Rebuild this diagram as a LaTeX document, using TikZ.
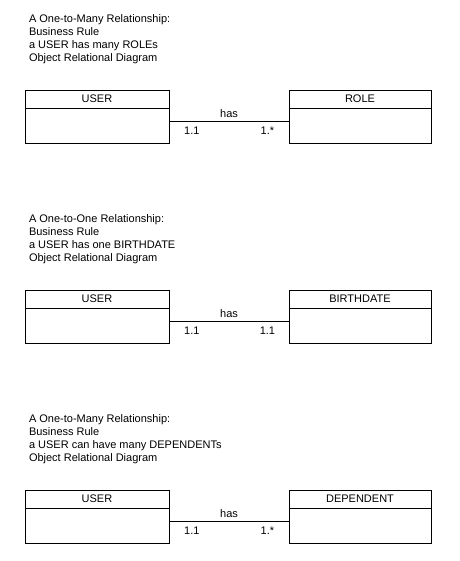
\documentclass[tikz,border=0pt]{standalone}
\usepackage{fontspec}
\setmainfont{Liberation Sans}
\usetikzlibrary{positioning}
\tikzstyle{annot}=[inner sep=0pt, outer sep=0pt, font=\fontsize{8.25}{9.75}\selectfont]
\tikzstyle{head}=[annot, rectangle, draw=black, line width=0.75pt, minimum height=13.5pt, text height=5.9pt, text depth=0pt, anchor=north west]
\tikzstyle{body}=[rectangle, draw=black, line width=0.75pt, minimum height=26.25pt, inner sep=0pt, outer sep=0pt]
\tikzstyle{note}=[annot, align=left, anchor=base west]
\tikzstyle{link}=[line width=0.75pt]
\newcommand{\drawrelation}[6]
{
  % base of the note is its last line
  \node[note] (note#1) at (29,#2+61) {A #5 Relationship:\\Business Rule\\#6\\Object Relational Diagram};
  \node[head, minimum width=108pt] (user#1) at (25,#2+90) {USER};
  \node[body, minimum width=108pt, below=0pt of user#1] (userbody#1) {};
  \node[head, minimum width=106.5pt] (class#1) at (289,#2+90) {#3};
  \node[body, minimum width=106.5pt, below=0pt of class#1] (classbody#1) {};
  \draw[link] ([yshift=-9.75pt]userbody#1.north east) -- ([yshift=-9.75pt]classbody#1.north west)
    node[annot, midway, above=2.25pt] {has}
    node[annot, pos=0.19, anchor=base, yshift=-9.75pt] {1.1}
    node[annot, pos=0.82, anchor=base, yshift=-9.75pt] {#4};
}

\begin{document}
\begin{tikzpicture}[x=0.75pt, y=-0.75pt]
	\useasboundingbox (0,0) rectangle (460,561);

	\drawrelation{1}{0}{ROLE}{1.*}{One-to-Many}{a USER has many ROLEs}
	\drawrelation{2}{200}{BIRTHDATE}{1.1}{One-to-One}{a USER has one BIRTHDATE}
	\drawrelation{3}{400}{DEPENDENT}{1.*}{One-to-Many}{a USER can have many DEPENDENTs}

\end{tikzpicture}
\end{document}
